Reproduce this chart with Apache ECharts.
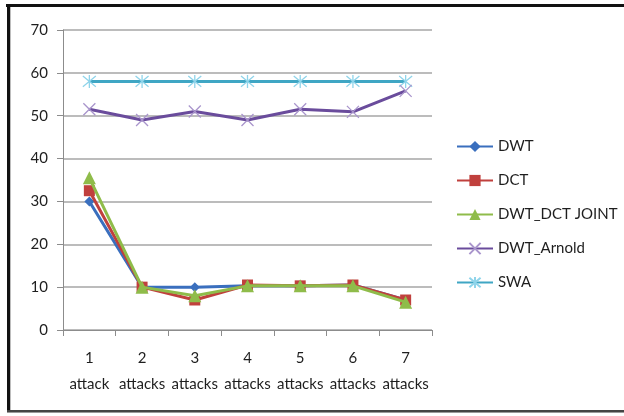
<!DOCTYPE html>
<html>
<head>
<meta charset="utf-8">
<script src="https://cdn.jsdelivr.net/npm/echarts@6/dist/echarts.min.js"></script>
<style>
  html, body { margin: 0; padding: 0; background: #fff; }
  #chart { width: 624px; height: 416px; }
</style>
</head>
<body>
<div id="chart"></div>
<script>
// Categories along the x axis
const categories = ['1\nattack', '2\nattacks', '3\nattacks', '4\nattacks', '5\nattacks', '6\nattacks', '7\nattacks'];

// Series values
const dwt      = [30, 10, 10, 10.3, 10.3, 10.5, 7];
const dct      = [32.5, 10, 7, 10.5, 10.3, 10.5, 7];
const dwtDct   = [35.5, 10, 8, 10.3, 10.3, 10.3, 6.5];
const dwtArnold = [51.5, 49, 51, 49, 51.5, 50.9, 55.8];
const swa      = [58, 58, 58, 58, 58, 58, 58];

// Y axis ticks
const yTicks = [0, 10, 20, 30, 40, 50, 60, 70];

const FONT = 'Lato, "Open Sans", sans-serif';
const xMark = 'path://M0 0 L10 10 M10 0 L0 10';
const starMark = 'path://M0 0 L10 10 M10 0 L0 10 M5 -1 L5 11';

function lineSeries(name, data, color, symbol, size, extra) {
  return Object.assign({
    name: name,
    type: 'line',
    data: data,
    symbol: symbol,
    symbolSize: size,
    showAllSymbol: true,
    lineStyle: { color: color, width: 3 },
    itemStyle: { color: color },
    emphasis: { disabled: true },
    animation: false
  }, extra || {});
}

const chart = echarts.init(document.getElementById('chart'), null, { renderer: 'canvas' });
chart.setOption({
  backgroundColor: '#fff',
  animation: false,
  grid: { left: 63, right: 192, top: 30, bottom: 86 },
  xAxis: {
    type: 'category',
    data: categories,
    boundaryGap: true,
    axisLine: { lineStyle: { color: '#8c8c8c', width: 1 } },
    axisTick: { show: true, length: 6, lineStyle: { color: '#8c8c8c' } },
    axisLabel: {
      color: '#1e1e1e', fontFamily: FONT, fontSize: 15,
      lineHeight: 26, margin: 15, interval: 0
    }
  },
  yAxis: {
    type: 'value',
    min: yTicks[0],
    max: yTicks[yTicks.length - 1],
    interval: 10,
    axisLine: { show: true, lineStyle: { color: '#8c8c8c', width: 1 } },
    axisTick: { show: true, length: 6, lineStyle: { color: '#8c8c8c' } },
    axisLabel: { color: '#1e1e1e', fontFamily: FONT, fontSize: 15, margin: 15 },
    splitLine: { show: true, lineStyle: { color: '#a6a6a6', width: 1.5 } }
  },
  legend: {
    orient: 'vertical',
    left: 451,
    top: 134,
    itemWidth: 36,
    itemHeight: 14,
    itemGap: 19,
    textStyle: { color: '#1e1e1e', fontFamily: FONT, fontSize: 15 },
    data: ['DWT', 'DCT', 'DWT_DCT JOINT', 'DWT_Arnold', 'SWA']
  },
  series: [
    lineSeries('SWA', swa, '#3fa6c4', starMark, 13, {
      itemStyle: { color: 'transparent', borderColor: '#8fd4ea', borderWidth: 1.3 },
      z: 2
    }),
    lineSeries('DWT_Arnold', dwtArnold, '#6a4c9c', xMark, 12, {
      itemStyle: { color: 'transparent', borderColor: '#a995cc', borderWidth: 1.3 },
      z: 2
    }),
    lineSeries('DWT', dwt, '#3a6fbe', 'diamond', 10, { z: 3 }),
    lineSeries('DCT', dct, '#c0403d', 'rect', 11, { z: 4 }),
    lineSeries('DWT_DCT JOINT', dwtDct, '#8fbc4a', 'triangle', 13, { z: 5 })
  ],
  graphic: [
    // frame around the figure
    { type: 'rect', shape: { x: 6, y: 4, width: 618, height: 3 }, style: { fill: '#111' }, silent: true },
    { type: 'rect', shape: { x: 7, y: 4, width: 3, height: 409 }, style: { fill: '#111' }, silent: true },
    { type: 'rect', shape: { x: 10, y: 7, width: 1, height: 404 }, style: { fill: '#bdbdbd' }, silent: true },
    { type: 'rect', shape: { x: 7, y: 410, width: 617, height: 2 }, style: { fill: '#444' }, silent: true },
    { type: 'rect', shape: { x: 7, y: 412, width: 617, height: 1 }, style: { fill: '#999' }, silent: true }
  ]
});
</script>
</body>
</html>
